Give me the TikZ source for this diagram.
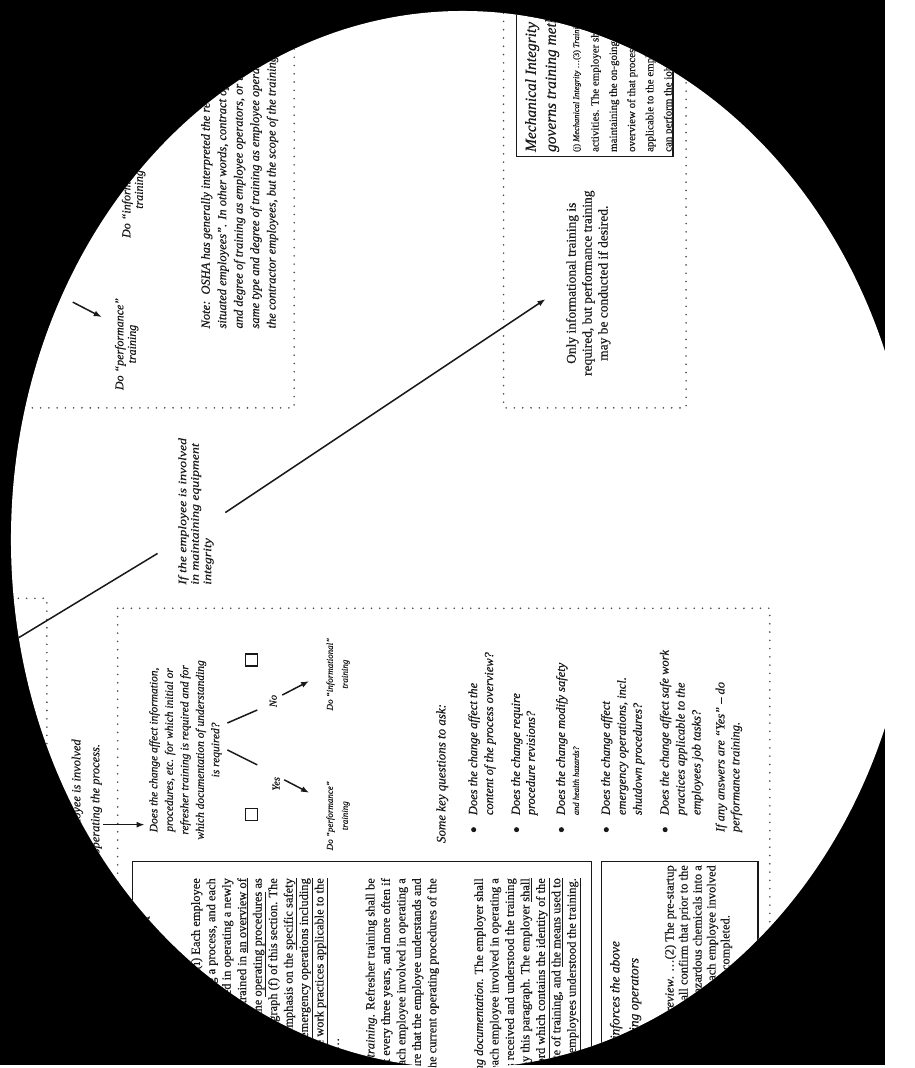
\documentclass[tikz,border=0pt]{standalone}
\usepackage{fontspec}
\setmainfont{Liberation Serif}[FakeBold=0.4]
\newfontfamily\widerm{Liberation Serif}[FakeBold=0.4, FakeStretch=1.2]
\usetikzlibrary{arrows.meta, positioning}
\newcommand{\fsz}[2]{\fontsize{#1}{#2}\selectfont}

\begin{document}
\begin{tikzpicture}[x=1pt, y=-1pt, line width=1.3pt]
	\tikzset{arr/.style={-{Latex[length=8pt,width=6pt]}, line width=1.5pt, draw=black!90}}
	\tikzset{dotbox/.style={draw=black!70, line width=1.8pt, dash pattern=on 0pt off 8.3pt, line cap=round}}
	\tikzset{solidbox/.style={draw=black!90, line width=1.5pt}}
	\tikzset{rot/.style={rotate=90, inner sep=0pt, text=black!90}}
	\tikzset{chk/.style={draw=black!90, minimum size=12pt, inner sep=0pt, line width=1.5pt}}
	\tikzset{bul/.style={circle, fill=black!90, inner sep=1.8pt}}
	\tikzset{para/.style={rot, anchor=north east, align=right, font=\fsz{12.5}{15.5}}}

	\fill[black] (0,0) rectangle (887,1068);
	\fill[white] (464,541) ellipse [x radius=453pt, y radius=530pt];
	\begin{scope}
		\clip (464,541) ellipse [x radius=453pt, y radius=530pt];

		% dotted frames
		\draw[dotbox] (-20,-20) rectangle (295,409);
		\draw[dotbox] (505,-20) rectangle (688,409);
		\draw[dotbox] (-20,600) rectangle (47,1100);
		\draw[dotbox] (118,610) rectangle (772,1100);
		% solid frames
		\draw[solidbox] (518,-30) rectangle (675,157);
		\draw[solidbox] (133,864) rectangle (593,1120);
		\draw[solidbox] (603,864) rectangle (760,1120);

		% upper left frame
		\node[rot, font=\itshape\fsz{12}{12.5}, align=center] (infoTop) at (134,190) {Do ``informational''\\training};
		\node[rot, font=\itshape\fsz{12}{12.5}, align=center] (perfTop) at (127,345) {Do ``performance''\\training};
		\coordinate (yesTopA) at (73,303);
		\coordinate (yesTopB) at (102,318);
		\draw[arr] (yesTopA) -- (yesTopB);
		\node[rot, anchor=north west, align=left, font=\itshape\fsz{12.5}{16.5}] (noteTxt) at (201,330)
			{Note:\ \ OSHA has generally interpreted the requirement to cover ``similarly\\
			situated employees''.  In other words, contract operators need the same type\\
			and degree of training as employee operators, or the host employer\\
			same type and degree of training as employee operators to\\
			the contractor employees, but the scope of the training is the same.};

		% labels on the long connectors
		\node[rot, anchor=north west, align=left, font=\widerm\itshape\fsz{11.5}{12.5}] (maintLbl) at (178,587)
			{If the employee is involved\\in maintaining equipment\\integrity};
		\node[rot, align=center, font=\itshape\fsz{12.5}{19}] (operLbl) at (87,808)
			{If the employee is involved\\in operating the process.};
		\coordinate (lnIn) at (-20,663);
		\coordinate (lnEnd) at (158,555);
		\draw[draw=black!90, line width=1.5pt] (lnIn) -- (lnEnd);
		\coordinate (mArrS) at (226,514);
		\coordinate (mArrE) at (547,300);
		\draw[arr] (mArrS) -- (mArrE);
		\coordinate (opArrS) at (103,827);
		\coordinate (opArrE) at (145,827);
		\draw[arr] (opArrS) -- (opArrE);

		% maintenance frame
		\node[rot, align=center, font=\fsz{13.5}{16}] (onlyInfo) at (590,284)
			{Only informational training is\\required, but performance training\\may be conducted if desired.};
		\node[rot, anchor=north west, align=left, font=\itshape\fsz{15.5}{20}] (miHead) at (526,153)
			{Mechanical Integrity requirement\\governs training methods for maintenance};
		\node[rot, anchor=north west, align=left, font=\fsz{8.5}{10}] (miSub) at (574,153)
			{(j) \textit{Mechanical Integrity} \ldots (3) \textit{Training for process maintenance}};
		\node[rot, anchor=north west, align=left, font=\fsz{11}{18.3}] (miBody) at (592,153)
			{activities.  The employer shall train each employee involved in\\
			maintaining the on-going integrity of process equipment in an\\
			overview of that process and its hazards and in the procedures\\
			applicable to the employee's job tasks to assure that the employee\\
			can perform the job tasks in a safe manner.};

		% change frame
		\node[rot, align=center, font=\itshape\fsz{11.5}{15.5}] (qChange) at (186,752)
			{Does the change affect information,\\procedures, etc. for which initial or\\refresher training is required and for\\which documentation of understanding\\is required?};
		\coordinate (yesA) at (228,752);
		\coordinate (yesB) at (258,767);
		\coordinate (noA) at (228,725);
		\coordinate (noB) at (258,712);
		\draw[draw=black!90, line width=1.5pt] (yesA) -- (yesB);
		\draw[draw=black!90, line width=1.5pt] (noA) -- (noB);
		\node[rot, font=\itshape\fsz{10.5}{11}] (yesLbl) at (277,786) {Yes};
		\node[rot, font=\itshape\fsz{10.5}{11}] (noLbl) at (274,703) {No};
		\coordinate (yesArrS) at (285,782);
		\coordinate (yesArrE) at (310,795);
		\coordinate (noArrS) at (283,697);
		\coordinate (noArrE) at (310,683);
		\draw[arr] (yesArrS) -- (yesArrE);
		\draw[arr] (noArrS) -- (noArrE);
		\node[chk] (chkYes) at (252,817) {};
		\node[chk] (chkNo) at (252,662) {};
		\node[rot, align=center, font=\itshape\fsz{9}{15}] (perfLow) at (339,818) {Do ``performance''\\training};
		\node[rot, align=center, font=\itshape\fsz{9}{15}] (infoLow) at (339,676) {Do ``informational''\\training};

		\node[rot, anchor=north west, font=\itshape\fsz{13}{16}] (keyQ) at (437,846) {Some key questions to ask:};
		\foreach \bx/\nm in {475/b1, 518/b2, 563/b3, 608/b4, 667/b5}
			\node[bul] (\nm) at (\bx,832) {};
		\node[rot, anchor=north west, align=left, font=\itshape\fsz{12.5}{16}] (q1) at (469,818)
			{Does the change affect the\\content of the process overview?};
		\node[rot, anchor=north west, align=left, font=\itshape\fsz{12.5}{15}] (q2) at (512,818)
			{Does the change require\\procedure revisions?};
		\node[rot, anchor=north west, align=left, font=\itshape\fsz{12.5}{14}] (q3) at (557,818)
			{Does the change modify safety\\{\fsz{8.5}{9}and health hazards?}};
		\node[rot, anchor=north west, align=left, font=\itshape\fsz{12.5}{16}] (q4) at (602,818)
			{Does the change affect\\emergency operations, incl.\\shutdown procedures?};
		\node[rot, anchor=north west, align=left, font=\itshape\fsz{12.5}{16}] (q5) at (661,818)
			{Does the change affect safe work\\practices applicable to the\\employees job tasks?};
		\node[rot, anchor=north west, align=left, font=\itshape\fsz{12.5}{15}] (qAll) at (717,835)
			{If any answers are ``Yes'' -- do\\performance training.};

		% regulation text boxes
		\node[rot, anchor=north east, font=\bfseries\itshape\fsz{12}{14}] (bx1Head) at (141,918) {The regulatory framework};
		\node[para] (pInit) at (191,880)
			{(g) \textit{Training}. (1) \textit{Initial training}. (i) Each employee\\
			presently involved in operating a process, and each\\
			employee before being involved in operating a newly\\
			assigned process, shall be trained in \underline{an overview of}\\
			the process and in the \underline{operating procedures} as\\
			specified in paragraph (f) of this section.  The\\
			training shall include emphasis on the \underline{specific safety}\\
			and health hazards, \underline{emergency operations including}\\
			shutdown, and \underline{safe work practices applicable to the}\\
			employee's job tasks. \ldots\hspace*{160pt}};
		\node[para] (pRefr) at (366,880)
			{(2) \textit{Refresher training}.  Refresher training shall be\\
			provided at least every three years, and more often if\\
			necessary, to each employee involved in operating a\\
			process to assure that the employee understands and\\
			adheres to the current operating procedures of the};
		\node[para] (pDocu) at (475,880)
			{(3) \textit{Training documentation}.  The employer shall\\
			ascertain that each employee involved in operating a\\
			process has received and understood the training\\
			required by this paragraph.  The employer \underline{shall}\\
			\underline{prepare a record which contains the identity of the}\\
			employee, the date of training, and \underline{the means used to}\\
			\underline{verify that the employees understood the training.}};
		\node[rot, anchor=north east, align=right, font=\itshape\fsz{13.5}{19}] (bx2Head) at (611,943)
			{Pre-Startup Safety Review reinforces the above\\training requirements for existing operators\hspace*{17pt}};
		\node[para, font=\fsz{12.5}{14}] (pPssr) at (666,867)
			{(l) \textit{Pre-startup safety review}. \ldots (2) The pre-startup\\
			safety review shall confirm that prior to the\hspace*{33pt}\\
			introduction of highly hazardous chemicals into a\hspace*{26pt}\\
			process: \ldots (iv) Training of each employee involved\hspace*{3pt}\\
			in operating a process has been completed.\hspace*{50pt}};
	\end{scope}
	\useasboundingbox (0,0) rectangle (887,1068);
\end{tikzpicture}
\end{document}
